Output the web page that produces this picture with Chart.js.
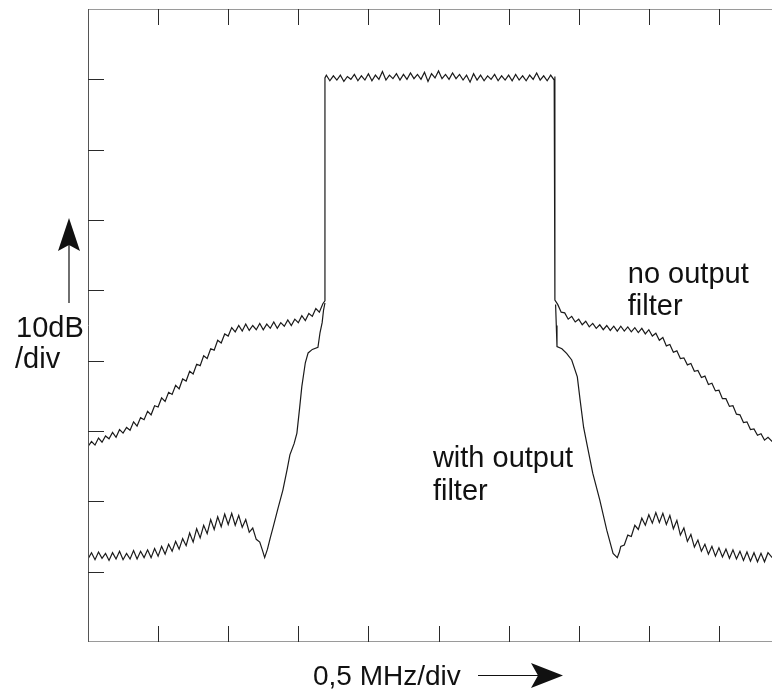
<!DOCTYPE html>
<html>
<head>
<meta charset="utf-8">
<script src="https://cdn.jsdelivr.net/npm/chart.js@4.4.1/dist/chart.umd.min.js"></script>
<style>
  html, body { margin: 0; padding: 0; background: #fff; }
  #wrap { width: 772px; height: 690px; }
</style>
</head>
<body>
<div id="wrap"><canvas id="spectrum-chart" width="772" height="690"></canvas></div>
<script>
// x in divisions of 0.5 MHz, y in divisions of 10 dB (0 = bottom of screen)
const xDivs = 9.757;
const yDivs = 9;

const noFilterLeftX = [0.00,0.05,0.10,0.15,0.20,0.25,0.30,0.35,0.40,0.45,0.50,0.55,0.60,0.65,0.70,0.75,0.80,0.85,0.90,0.95,
    1.00,1.05,1.10,1.15,1.20,1.25,1.30,1.35,1.40,1.45,1.50,1.55,1.60,1.65,1.70,1.75,1.80,1.85,1.90,1.95,
    2.00,2.05,2.10,2.15,2.20,2.25,2.30,2.35,2.40,2.45,2.50,2.55,2.60,2.65,2.70,2.75,2.80,2.85,2.90,2.95,
    3.00,3.05,3.10,3.15,3.20,3.25,3.30,3.35,3.38];
const noFilterLeftY = [2.78,2.85,2.80,2.90,2.84,2.93,2.89,2.98,2.91,3.02,2.97,3.05,3.01,3.13,3.07,3.19,3.16,3.28,3.23,3.36,
    3.34,3.47,3.42,3.55,3.52,3.65,3.60,3.74,3.71,3.85,3.81,3.95,3.93,4.07,4.03,4.17,4.15,4.29,4.25,4.38,
    4.35,4.47,4.41,4.50,4.42,4.52,4.43,4.50,4.44,4.53,4.44,4.52,4.46,4.55,4.46,4.54,4.49,4.58,4.50,4.59,
    4.54,4.64,4.57,4.67,4.63,4.74,4.69,4.81,4.85];

const carrierX = [3.38,3.40,3.45,3.50,3.55,3.60,3.65,3.70,3.75,3.80,3.85,3.90,3.95,4.00,4.05,4.10,4.15,4.20,4.25,4.30,
    4.35,4.40,4.45,4.50,4.55,4.60,4.65,4.70,4.75,4.80,4.85,4.90,4.95,5.00,5.05,5.10,5.15,5.20,5.25,5.30,
    5.35,5.40,5.45,5.50,5.55,5.60,5.65,5.70,5.75,5.80,5.85,5.90,5.95,6.00,6.05,6.10,6.15,6.20,6.25,6.30,
    6.35,6.40,6.45,6.50,6.55,6.60,6.65,6.66];
const carrierY = [8.02,8.06,7.98,8.05,7.99,8.06,7.97,8.04,8.00,8.07,7.98,8.05,7.99,8.08,7.98,8.06,8.00,8.11,7.99,8.06,
    8.01,8.08,7.99,8.07,8.00,8.09,8.01,8.07,8.00,8.10,7.97,8.08,8.02,8.12,8.01,8.07,8.00,8.09,8.01,8.07,
    7.99,8.06,7.96,8.08,7.99,8.06,7.98,8.05,8.00,8.07,7.98,8.05,7.99,8.06,7.98,8.07,7.99,8.05,7.98,8.06,
    8.00,8.09,7.99,8.05,7.98,8.06,7.99,8.04];

const noFilterRightX = [6.66,6.70,6.75,6.80,6.85,6.90,6.95,7.00,7.05,7.10,7.15,7.20,7.25,7.30,7.35,7.40,7.45,7.50,7.55,7.60,
    7.65,7.70,7.75,7.80,7.85,7.90,7.95,8.00,8.05,8.10,8.15,8.20,8.25,8.30,8.35,8.40,8.45,8.50,8.55,8.60,
    8.65,8.70,8.75,8.80,8.85,8.90,8.95,9.00,9.05,9.10,9.15,9.20,9.25,9.30,9.35,9.40,9.45,9.50,9.55,9.60,
    9.65,9.70,9.76];
const noFilterRightY = [4.86,4.80,4.69,4.68,4.59,4.63,4.55,4.59,4.51,4.56,4.48,4.53,4.46,4.51,4.44,4.50,4.43,4.49,4.42,4.49,
    4.42,4.48,4.41,4.47,4.40,4.46,4.38,4.44,4.35,4.39,4.29,4.33,4.21,4.23,4.12,4.14,4.03,4.04,3.94,3.96,
    3.85,3.86,3.76,3.78,3.66,3.68,3.57,3.58,3.46,3.46,3.35,3.36,3.24,3.23,3.12,3.13,3.02,3.03,2.94,2.96,
    2.87,2.91,2.85];

const withFilterLeftX = [0.00,0.05,0.10,0.15,0.20,0.25,0.30,0.35,0.40,0.45,0.50,0.55,0.60,0.65,0.70,0.75,0.80,0.85,0.90,0.95,
    1.00,1.05,1.10,1.15,1.20,1.25,1.30,1.35,1.40,1.45,1.50,1.55,1.60,1.65,1.70,1.75,1.80,1.85,1.90,1.95,
    2.00,2.05,2.10,2.15,2.20,2.25,2.30,2.35,2.40,2.45,2.49,2.52,2.56,2.60,2.64,2.71,2.78,2.84,2.88,2.94,
    2.98,3.02,3.05,3.10,3.14,3.20,3.28,3.31,3.34,3.36,3.38];
const withFilterLeftY = [1.18,1.27,1.17,1.28,1.19,1.26,1.16,1.27,1.18,1.29,1.17,1.26,1.18,1.30,1.18,1.29,1.20,1.31,1.20,1.33,
    1.22,1.36,1.25,1.39,1.29,1.43,1.32,1.47,1.37,1.55,1.42,1.61,1.48,1.66,1.54,1.74,1.60,1.78,1.64,1.82,
    1.67,1.83,1.66,1.80,1.63,1.74,1.56,1.62,1.46,1.42,1.30,1.20,1.32,1.48,1.63,1.90,2.16,2.45,2.66,2.82,
    2.97,3.34,3.63,3.97,4.11,4.16,4.19,4.40,4.54,4.72,4.82];

const withFilterRightX = [6.67,6.68,6.69,6.76,6.83,6.90,6.98,7.02,7.07,7.12,7.20,7.30,7.40,7.49,7.55,
    7.58,7.60,7.65,7.70,7.75,7.80,7.85,7.90,7.95,8.00,8.05,8.10,8.15,8.20,8.25,8.30,8.35,8.40,8.45,8.50,
    8.55,8.60,8.65,8.70,8.75,8.80,8.85,8.90,8.95,9.00,9.05,9.10,9.15,9.20,9.25,9.30,9.35,9.40,9.45,9.50,
    9.55,9.60,9.65,9.70,9.76];
const withFilterRightY = [4.80,4.50,4.20,4.17,4.10,4.01,3.77,3.44,3.05,2.80,2.40,2.02,1.59,1.26,1.20,
    1.28,1.36,1.38,1.52,1.50,1.66,1.60,1.76,1.66,1.81,1.69,1.84,1.70,1.83,1.67,1.80,1.61,1.73,1.52,1.62,
    1.43,1.53,1.35,1.45,1.29,1.39,1.25,1.36,1.22,1.34,1.21,1.32,1.19,1.31,1.18,1.29,1.16,1.28,1.15,1.27,
    1.14,1.26,1.14,1.27,1.20];

const yLabel = ['10dB', '/div'];
const xLabel = '0,5 MHz/div';
const noFilterLabel = ['no output', 'filter'];
const withFilterLabel = ['with output', 'filter'];

const toPoints = (xs, ys) => xs.map((x, i) => ({ x: x, y: ys[i] }));

const traceStyle = {
    borderColor: '#1a1a1a',
    borderWidth: 1.2,
    pointRadius: 0,
    fill: false,
    tension: 0,
};

const screenPlugin = {
    id: 'screen',
    afterDatasetsDraw(chart) {
        const ctx = chart.ctx;
        const area = chart.chartArea;
        const xs = chart.scales.x;
        const ys = chart.scales.y;
        ctx.save();

        // frame
        ctx.lineWidth = 1;
        ctx.strokeStyle = '#9a9a9a';
        ctx.beginPath();
        ctx.moveTo(area.left, area.top + 0.5);
        ctx.lineTo(area.right, area.top + 0.5);
        ctx.moveTo(area.left, area.bottom - 0.5);
        ctx.lineTo(area.right, area.bottom - 0.5);
        ctx.stroke();
        ctx.strokeStyle = '#555';
        ctx.beginPath();
        ctx.moveTo(area.left + 0.5, area.top);
        ctx.lineTo(area.left + 0.5, area.bottom);
        ctx.stroke();

        // division ticks, pointing inwards
        ctx.strokeStyle = '#2a2a2a';
        ctx.beginPath();
        for (let v = 1; v < xDivs; v++) {
            const px = Math.round(xs.getPixelForValue(v)) + 0.5;
            ctx.moveTo(px, area.top);
            ctx.lineTo(px, area.top + 16);
            ctx.moveTo(px, area.bottom);
            ctx.lineTo(px, area.bottom - 16);
        }
        for (let v = 1; v < yDivs; v++) {
            const py = Math.round(ys.getPixelForValue(v)) + 0.5;
            ctx.moveTo(area.left, py);
            ctx.lineTo(area.left + 16, py);
        }
        ctx.stroke();

        // labels
        ctx.fillStyle = '#111';
        ctx.font = '29px "Liberation Sans", Arial, sans-serif';
        ctx.textBaseline = 'alphabetic';
        ctx.textAlign = 'left';
        ctx.fillText(yLabel[0], 16, 337);
        ctx.fillText(yLabel[1], 15, 368);
        ctx.font = '28px "Liberation Sans", Arial, sans-serif';
        ctx.fillText(xLabel, 313, 685);

        ctx.font = '29px "Liberation Sans", Arial, sans-serif';
        const nx = xs.getPixelForValue(7.70);
        ctx.fillText(noFilterLabel[0], nx, ys.getPixelForValue(5.11));
        ctx.fillText(noFilterLabel[1], nx, ys.getPixelForValue(4.65));
        const wx = xs.getPixelForValue(4.92);
        ctx.fillText(withFilterLabel[0], wx, ys.getPixelForValue(2.49));
        ctx.fillText(withFilterLabel[1], wx, ys.getPixelForValue(2.02));

        // arrows
        ctx.strokeStyle = '#111';
        ctx.lineWidth = 1.2;
        ctx.beginPath();
        ctx.moveTo(69, 303);
        ctx.lineTo(69, 244);
        ctx.moveTo(478, 675.5);
        ctx.lineTo(540, 675.5);
        ctx.stroke();
        ctx.beginPath();
        ctx.moveTo(69, 218);
        ctx.lineTo(80, 251);
        ctx.lineTo(69, 245);
        ctx.lineTo(58, 251);
        ctx.closePath();
        ctx.fill();
        ctx.beginPath();
        ctx.moveTo(563, 675.5);
        ctx.lineTo(531, 663);
        ctx.lineTo(538, 675.5);
        ctx.lineTo(531, 688);
        ctx.closePath();
        ctx.fill();

        ctx.restore();
    }
};

const spectrumCtx = document.getElementById('spectrum-chart').getContext('2d');
const spectrumChart = new Chart(spectrumCtx, {
    type: 'line',
    data: {
        datasets: [
            {
                label: 'no output filter',
                data: toPoints(
                    noFilterLeftX.concat(carrierX, noFilterRightX),
                    noFilterLeftY.concat(carrierY, noFilterRightY)
                ),
                ...traceStyle,
            },
            {
                label: 'with output filter',
                data: toPoints(withFilterLeftX, withFilterLeftY),
                ...traceStyle,
            },
            {
                label: 'with output filter (upper side)',
                data: toPoints(withFilterRightX, withFilterRightY),
                ...traceStyle,
            },
        ]
    },
    options: {
        responsive: false,
        animation: false,
        layout: {
            padding: { left: 88, top: 9, right: 0, bottom: 48 }
        },
        plugins: {
            legend: { display: false },
            tooltip: { enabled: false },
        },
        scales: {
            x: { type: 'linear', min: 0, max: xDivs, display: false },
            y: { type: 'linear', min: 0, max: yDivs, display: false },
        }
    },
    plugins: [ screenPlugin ],
});
</script>
</body>
</html>
